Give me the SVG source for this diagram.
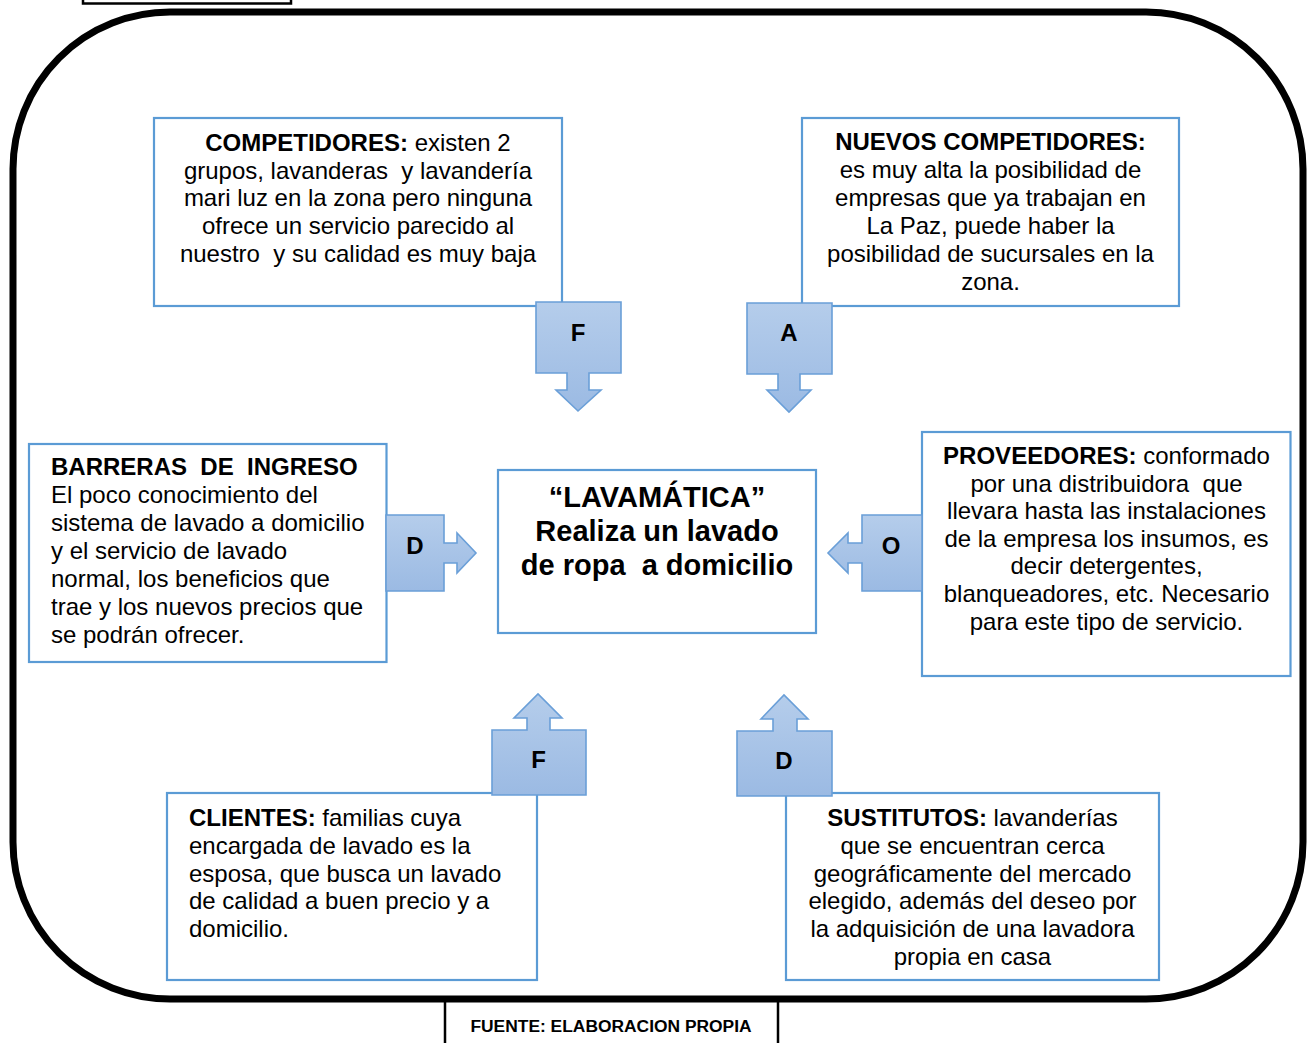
<svg xmlns="http://www.w3.org/2000/svg" width="1308" height="1043" viewBox="0 0 1308 1043">
  <defs>
    <linearGradient id="calloutFill" x1="0" y1="0" x2="0" y2="1">
      <stop offset="0" stop-color="#B5CDEB"/>
      <stop offset="1" stop-color="#9BBAE3"/>
    </linearGradient>
    <style>
      .frame { fill: none; stroke: #000; stroke-width: 7; }
      .tag { fill: #fff; stroke: #000; stroke-width: 2.5; }
      .box { fill: #fff; stroke: #5B9BD5; stroke-width: 2.2; }
      .callout { fill: url(#calloutFill); stroke: #6A9FD8; stroke-width: 1.6; stroke-linejoin: miter; }
      .txt { font-family: "Liberation Sans", Arial, sans-serif; font-size: 24px; fill: #000; }
      .c { text-anchor: middle; }
      .b { font-weight: bold; }
      .title { font-family: "Liberation Sans", Arial, sans-serif; font-size: 29px; font-weight: bold; text-anchor: middle; fill: #000; }
      .letter { font-family: "Liberation Sans", Arial, sans-serif; font-size: 24px; font-weight: bold; text-anchor: middle; fill: #000; }
      .src { font-family: "Liberation Sans", Arial, sans-serif; font-size: 17.4px; font-weight: bold; text-anchor: middle; fill: #000; }
    </style>
  </defs>

  <rect width="1308" height="1043" fill="#fff"/>

  <!-- small heading tag cut off at the top edge -->
  <rect class="tag" x="83" y="-10" width="208" height="13.5"/>

  <!-- source note under the frame -->
  <g id="fuente">
    <rect class="tag" x="445" y="1000" width="333" height="60" stroke-width="3"/>
    <text class="src" x="611" y="1032">FUENTE: ELABORACION PROPIA</text>
  </g>

  <!-- rounded outer frame -->
  <rect class="frame" x="13" y="12" width="1290" height="987" rx="157" ry="157"/>

  <!-- center node -->
  <g id="lavamatica">
    <rect class="box" x="498" y="470" width="318" height="163"/>
    <text class="title" x="657" y="507">“LAVAMÁTICA”</text>
    <text class="title" x="657" y="541">Realiza un lavado</text>
    <text class="title" x="657" y="575" xml:space="preserve">de ropa  a domicilio</text>
  </g>

  <g id="competidores">
    <rect class="box" x="154" y="118" width="408" height="188"/>
    <text class="txt c" x="358" y="151"><tspan class="b">COMPETIDORES:</tspan> existen 2</text>
    <text class="txt c" x="358" y="178.7" xml:space="preserve">grupos, lavanderas  y lavandería</text>
    <text class="txt c" x="358" y="206.4">mari luz en la zona pero ninguna</text>
    <text class="txt c" x="358" y="234.1">ofrece un servicio parecido al</text>
    <text class="txt c" x="358" y="261.8" xml:space="preserve">nuestro  y su calidad es muy baja</text>
  </g>

  <g id="nuevos-competidores">
    <rect class="box" x="802" y="118" width="377" height="188"/>
    <text class="txt c b" x="990.5" y="150">NUEVOS COMPETIDORES:</text>
    <text class="txt c" x="990.5" y="178">es muy alta la posibilidad de</text>
    <text class="txt c" x="990.5" y="206">empresas que ya trabajan en</text>
    <text class="txt c" x="990.5" y="234">La Paz, puede haber la</text>
    <text class="txt c" x="990.5" y="262">posibilidad de sucursales en la</text>
    <text class="txt c" x="990.5" y="290">zona.</text>
  </g>

  <g id="barreras-ingreso">
    <rect class="box" x="29" y="444" width="357.5" height="218"/>
    <text class="txt b" x="51" y="475" xml:space="preserve">BARRERAS  DE  INGRESO</text>
    <text class="txt" x="51" y="503">El poco conocimiento del</text>
    <text class="txt" x="51" y="531">sistema de lavado a domicilio</text>
    <text class="txt" x="51" y="559">y el servicio de lavado</text>
    <text class="txt" x="51" y="587">normal, los beneficios que</text>
    <text class="txt" x="51" y="615">trae y los nuevos precios que</text>
    <text class="txt" x="51" y="643">se podrán ofrecer.</text>
  </g>

  <g id="proveedores">
    <rect class="box" x="922" y="432" width="368.5" height="244"/>
    <text class="txt c" x="1106.5" y="464"><tspan class="b">PROVEEDORES:</tspan> conformado</text>
    <text class="txt c" x="1106.5" y="491.6" xml:space="preserve">por una distribuidora  que</text>
    <text class="txt c" x="1106.5" y="519.2">llevara hasta las instalaciones</text>
    <text class="txt c" x="1106.5" y="546.8">de la empresa los insumos, es</text>
    <text class="txt c" x="1106.5" y="574.4">decir detergentes,</text>
    <text class="txt c" x="1106.5" y="602">blanqueadores, etc. Necesario</text>
    <text class="txt c" x="1106.5" y="629.6">para este tipo de servicio.</text>
  </g>

  <g id="clientes">
    <rect class="box" x="167" y="793" width="370" height="187"/>
    <text class="txt" x="189" y="826"><tspan class="b">CLIENTES:</tspan> familias cuya</text>
    <text class="txt" x="189" y="854">encargada de lavado es la</text>
    <text class="txt" x="189" y="881.6">esposa, que busca un lavado</text>
    <text class="txt" x="189" y="909.3">de calidad a buen precio y a</text>
    <text class="txt" x="189" y="937">domicilio.</text>
  </g>

  <g id="sustitutos">
    <rect class="box" x="786" y="793" width="373" height="187"/>
    <text class="txt c" x="972.5" y="826"><tspan class="b">SUSTITUTOS:</tspan> lavanderías</text>
    <text class="txt c" x="972.5" y="854">que se encuentran cerca</text>
    <text class="txt c" x="972.5" y="881.6">geográficamente del mercado</text>
    <text class="txt c" x="972.5" y="909.3">elegido, además del deseo por</text>
    <text class="txt c" x="972.5" y="937">la adquisición de una lavadora</text>
    <text class="txt c" x="972.5" y="965">propia en casa</text>
  </g>

  <!-- arrow callouts pointing at the center node -->
  <g id="connectors">
    <g id="arrow-competidores">
      <path class="callout" d="M536,302 H621 V373 H589 V390 H601 L578,411 L556,390 H567 V373 H536 Z"/>
      <text class="letter" x="578" y="340.5">F</text>
    </g>
    <g id="arrow-nuevos">
      <path class="callout" d="M747,303 H832 V374 H800 V390 H811 L789,412 L767,390 H778 V374 H747 Z"/>
      <text class="letter" x="789" y="341">A</text>
    </g>
    <g id="arrow-barreras">
      <path class="callout" d="M386,515 H444 V543 H457 V533 L476,553 L457,573 V563 H444 V591 H386 Z"/>
      <text class="letter" x="415" y="553.5">D</text>
    </g>
    <g id="arrow-proveedores">
      <path class="callout" d="M922,515 V591 H862 V563 H848 V573 L828,553 L848,533 V543 H862 V515 Z"/>
      <text class="letter" x="891" y="553.5">O</text>
    </g>
    <g id="arrow-clientes">
      <path class="callout" d="M492,730 H527 V718 H514 L538,694 L562,718 H550 V730 H586 V795 H492 Z"/>
      <text class="letter" x="538.5" y="768">F</text>
    </g>
    <g id="arrow-sustitutos">
      <path class="callout" d="M737,731 H773 V719 H761 L784,695 L808,719 H797 V731 H832 V796 H737 Z"/>
      <text class="letter" x="784" y="768.5">D</text>
    </g>
  </g>
</svg>
